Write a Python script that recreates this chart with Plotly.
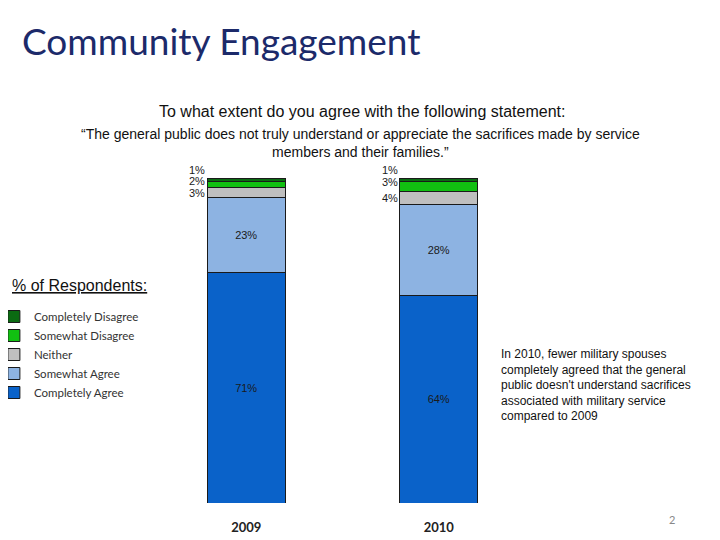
import plotly.graph_objects as go

years = ["2009", "2010"]
completely_agree = [71, 64]
somewhat_agree = [23, 28]
neither = [3, 4]
somewhat_disagree = [2, 3]
completely_disagree = [1, 1]

series_names = ["Completely Agree", "Somewhat Agree", "Neither", "Somewhat Disagree", "Completely Disagree"]
series_values = [completely_agree, somewhat_agree, neither, somewhat_disagree, completely_disagree]
series_colors = ["#0A62C9", "#8DB3E2", "#BFBFBF", "#11C011", "#0B6B12"]

OFF = 8  # page body margin offset
W, H = 720, 540
# plot area in target-screen pixels
X0, X1, Y0, Y1 = 149.5, 535.5, 178, 503
PL, PT = X0 - OFF, Y0 - OFF
PR, PB = W - (X1 - OFF), H - (Y1 - OFF)
PW = X1 - X0
PH = Y1 - Y0


def px(x):
    return (x - X0) / PW


def py(y):
    return (Y1 - y) / PH


fig = go.Figure()
for i, (name, vals, col) in enumerate(zip(series_names, series_values, series_colors)):
    inside = i < 2
    fig.add_trace(go.Bar(
        x=years, y=vals, name=name,
        marker=dict(color=col, line=dict(color="#1a1a1a", width=1)),
        width=0.404,
        text=[f"{v}%" for v in vals] if inside else None,
        textposition="inside" if inside else "none",
        insidetextanchor="middle",
        textfont=dict(family="Liberation Sans, Arial", size=11, color="#1a1a1a"),
        hoverinfo="skip",
    ))

# small outside labels for top segments, to the left of the bars
for xi, yr in enumerate(years):
    base = completely_agree[xi] + somewhat_agree[xi]
    segs = [(neither[xi], 0), (somewhat_disagree[xi], 4), (completely_disagree[xi], 10)]
    cum = base
    for v, shift in segs:
        mid = cum + v / 2
        cum += v
        fig.add_annotation(x=xi - 0.202, y=mid, xref="x", yref="y", text=f"{v}%",
                           showarrow=False, xanchor="right", yanchor="middle", yshift=shift,
                           font=dict(family="Liberation Sans, Arial", size=11, color="#1a1a1a"))

fig.update_layout(
    barmode="stack",
    width=W, height=H,
    margin=dict(l=PL, r=PR, t=PT, b=PB, autoexpand=False),
    paper_bgcolor="white", plot_bgcolor="white",
    showlegend=True,
    legend=dict(traceorder="reversed", x=px(-7), xanchor="left", y=py(302), yanchor="top",
                font=dict(family="Lato, Liberation Sans", size=11.5, color="#333333"),
                itemwidth=30, tracegroupgap=0, bgcolor="rgba(0,0,0,0)"),
    xaxis=dict(type="category", range=[-0.5, 1.5], showline=False, showgrid=False, zeroline=False,
               ticks="", ticklabelstandoff=15,
               tickfont=dict(family="Lato, Liberation Sans", size=13, color="#222222"),
               tickvals=years, ticktext=[f"<b>{y}</b>" for y in years]),
    yaxis=dict(range=[0, 100], visible=False, showgrid=False, zeroline=False),
)

fig.add_annotation(text="Community Engagement", xref="paper", yref="paper",
                   x=px(19), y=py(40), xanchor="left", yanchor="middle",
                   showarrow=False, font=dict(family="Lato, Noto Sans", size=37, color="#1C2A6A"))
fig.add_annotation(text="To what extent do you agree with the following statement:", xref="paper", yref="paper",
                   x=px(362), y=py(112), xanchor="center", yanchor="middle",
                   showarrow=False, font=dict(family="Liberation Sans, Arial", size=16, color="#111111"))
fig.add_annotation(text="“The general public does not truly understand or appreciate the sacrifices made by service<br>members and their families.”",
                   xref="paper", yref="paper",
                   x=px(361), y=py(143), xanchor="center", yanchor="middle",
                   showarrow=False, align="center",
                   font=dict(family="Liberation Sans, Arial", size=14, color="#111111"))
fig.add_annotation(text="<u>% of Respondents:</u>", xref="paper", yref="paper",
                   x=px(9), y=py(285), xanchor="left", yanchor="middle",
                   showarrow=False, font=dict(family="Liberation Sans, Arial", size=16, color="#111111"))
fig.add_annotation(text="In 2010, fewer military spouses<br>completely agreed that the general<br>public doesn't understand sacrifices<br>associated with military service<br>compared to 2009",
                   xref="paper", yref="paper",
                   x=px(499), y=py(385), xanchor="left", yanchor="middle",
                   showarrow=False, align="left",
                   font=dict(family="Liberation Sans, Arial", size=12, color="#111111"))
fig.add_annotation(text="2", xref="paper", yref="paper",
                   x=px(673), y=py(519), xanchor="center", yanchor="middle",
                   showarrow=False, font=dict(family="Lato, Liberation Sans", size=11, color="#888888"))

fig.write_html("out.html")
